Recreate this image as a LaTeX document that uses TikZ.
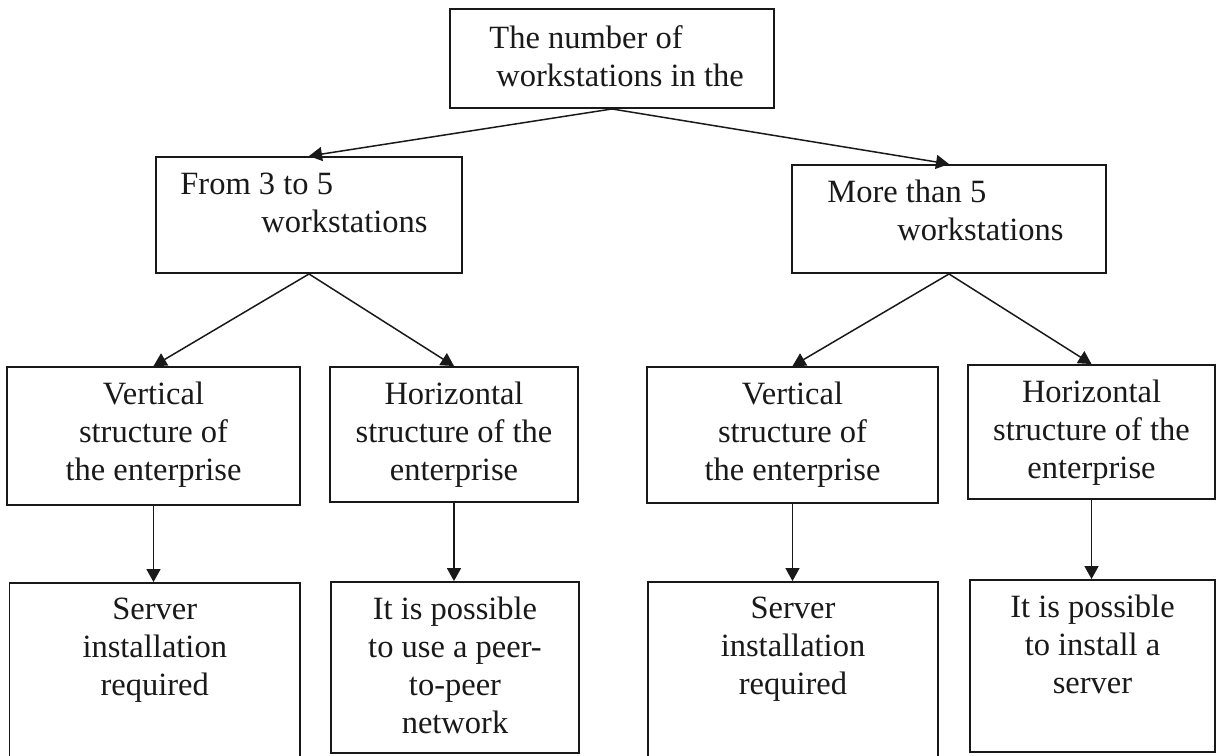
\documentclass[tikz,border=0pt]{standalone}
\usepackage{fontspec}
\setmainfont{Liberation Serif}
\usetikzlibrary{arrows.meta,positioning,calc}
\definecolor{ink}{RGB}{25,25,25}
\tikzset{
  >={Triangle[length=2.6mm,width=2.8mm]},
  box/.style={draw=ink,line width=1.1pt,inner sep=0pt},
  words/.style={inner sep=0pt,align=#1,text=ink,font=\fontsize{18.5}{21.6}\selectfont},
  words/.default=center,
  flow/.style={->,line width=0.85pt,draw=ink},
}

\begin{document}
\begin{tikzpicture}[x=0.02cm,y=-0.02cm]
    \useasboundingbox (0,0) rectangle (1216,755);
    % top level
    \node[box,minimum width=6.48cm,minimum height=1.98cm] (total) at (612,58.5) {};
    \node[words=left,anchor=north west] (total t) at ([xshift=0.8cm,yshift=-0.34cm]total.north west) {The number of\\\hspace*{0.14cm}workstations in the};
    % second level
    \node[box,minimum width=6.12cm,minimum height=2.32cm] (few) at (309,215) {};
    \node[words=left,anchor=north west] (few t) at ([xshift=0.5cm,yshift=-0.34cm]few.north west) {From 3 to 5\\\hspace*{1.62cm}workstations};
    \node[box,minimum width=6.28cm,minimum height=2.16cm] (many) at (949,219) {};
    \node[words=left,anchor=north west] (many t) at ([xshift=0.72cm,yshift=-0.32cm]many.north west) {More than 5\\\hspace*{1.4cm}workstations};
    % structures and consequences
    \foreach \n/\px/\py/\w/\h/\t in {
      fewvert/153.5/436/5.86/2.76/{Vertical\\structure of\\the enterprise},
      fewhor/454/434.5/4.96/2.7/{Horizontal\\structure of the\\enterprise},
      manyvert/792.5/435/5.82/2.72/{Vertical\\structure of\\the enterprise},
      manyhor/1091.5/432/4.94/2.68/{Horizontal\\structure of the\\enterprise},
      fewsrv/154.75/679/5.81/3.84/{Server\\installation\\required},
      fewp2p/455/667.5/4.96/3.42/{It is possible\\to use a peer-\\to-peer\\network},
      manysrv/793/678.5/5.8/3.86/{Server\\installation\\required},
      manyinst/1092.5/666/4.9/3.44/{It is possible\\to install a\\server}}{
      \node[box,minimum width=\w cm,minimum height=\h cm] (\n) at (\px,\py) {};
      \node[words,anchor=north] (\n t) at ([yshift=-0.32cm]\n.north) {\t};
    }
    \foreach \a/\b in {total/few,total/many,few/fewvert,few/fewhor,many/manyvert,many/manyhor}
      \draw[flow] (\a.south) -- (\b.north);
    \foreach \a/\b in {fewvert/fewsrv,fewhor/fewp2p,manyvert/manysrv,manyhor/manyinst}
      \draw[flow] (\a.south) -- (\a.south |- \b.north);
\end{tikzpicture}
\end{document}
